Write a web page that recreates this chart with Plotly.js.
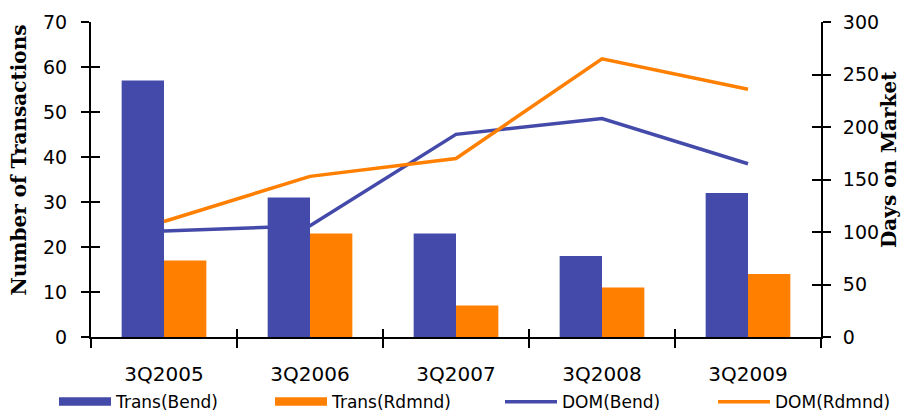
<!DOCTYPE html>
<html><head><meta charset="utf-8">
<script src="https://cdn.plot.ly/plotly-3.0.1.min.js"></script>
<style>html,body{margin:0;padding:0;background:#fff}#chart{width:904px;height:415px}</style>
</head><body><div id="chart"></div>
<script>
const categories = ["3Q2005","3Q2006","3Q2007","3Q2008","3Q2009"];
const transBend = [57, 31, 23, 18, 32];
const transRdmnd = [17, 23, 7, 11, 14];
const domBend = [101, 106, 193, 208, 165];
const domRdmnd = [110, 153, 170, 265, 236];
const leftTicks = [0,10,20,30,40,50,60,70];
const rightTicks = [0,50,100,150,200,250,300];
const leftTitle = "Number of Transactions";
const rightTitle = "Days on Market";

const blue = "#444AA9", orange = "#FF7F00";
const tickFont = {family: "DejaVu Sans", size: 19, color: "#000"};
const titleFont = {family: "DejaVu Serif", size: 20, color: "#000", weight: "bold"};

const traces = [
  {type:"bar", name:"Trans(Bend)", x:categories, y:transBend, marker:{color:blue}, yaxis:"y", showlegend:false},
  {type:"bar", name:"Trans(Rdmnd)", x:categories, y:transRdmnd, marker:{color:orange}, yaxis:"y", showlegend:false},
  // legend swatches for the bar series (wide rectangles as in the reference)
  {type:"scatter", mode:"lines", name:"Trans(Bend)", x:[categories[0]], y:[null], fill:"toself", fillcolor:blue, line:{color:blue, width:5}, yaxis:"y2", legend:"legend"},
  {type:"scatter", mode:"lines", name:"Trans(Rdmnd)", x:[categories[0]], y:[null], fill:"toself", fillcolor:orange, line:{color:orange, width:5}, yaxis:"y2", legend:"legend2"},
  {type:"scatter", mode:"lines", name:"DOM(Bend)", x:categories, y:domBend, line:{color:blue, width:3.5}, yaxis:"y2", legend:"legend3"},
  {type:"scatter", mode:"lines", name:"DOM(Rdmnd)", x:categories, y:domRdmnd, line:{color:orange, width:3.5}, yaxis:"y2", legend:"legend4"}
];

function leg(px) {
  return {orientation:"h", xref:"container", x:px/904, xanchor:"left", yref:"container", y:0.031, yanchor:"middle",
          bgcolor:"rgba(0,0,0,0)", font:{family:"DejaVu Sans", size:17, color:"#000"}, itemwidth:52};
}

const layout = {
  width:904, height:415,
  margin:{l:91, r:83, t:22, b:78, autoexpand:false},
  paper_bgcolor:"#fff", plot_bgcolor:"#fff",
  barmode:"group", bargap:0.42, bargroupgap:0,
  showlegend:true,
  legend:leg(54), legend2:leg(270), legend3:leg(500), legend4:leg(713),
  annotations:[
    {text:leftTitle, textangle:-90, xref:"paper", yref:"paper", x:-0.0993, y:0.562,
     xanchor:"center", yanchor:"middle", showarrow:false, font:titleFont},
    {text:rightTitle, textangle:-90, xref:"paper", yref:"paper", x:1.0932, y:0.562,
     xanchor:"center", yanchor:"middle", showarrow:false, font:titleFont}
  ],
  xaxis:{type:"category", showline:true, linecolor:"#000", linewidth:2,
         ticks:"outside", ticklen:9, tickwidth:2, tickcolor:"#000", tickson:"boundaries",
         ticklabelstandoff:18,
         tickfont:{family:"DejaVu Sans", size:20, color:"#000"}, showgrid:false, zeroline:false},
  xaxis2:{overlaying:"x", matches:"x", type:"category", showline:false, ticks:"inside", ticklen:8,
          tickwidth:2, tickcolor:"#000", tickson:"boundaries", showticklabels:false, showgrid:false},
  yaxis:{range:[0,70], tickvals:leftTicks, showline:true, linecolor:"#000", linewidth:2,
         ticks:"outside", ticklen:8, tickwidth:2, tickcolor:"#000", tickfont:tickFont,
         ticklabelstandoff:10, showgrid:false, zeroline:false},
  yaxis2:{range:[0,300], tickvals:rightTicks, overlaying:"y", side:"right", showline:true,
          linecolor:"#000", linewidth:2, ticks:"outside", ticklen:8, tickwidth:2, tickcolor:"#000",
          ticklabelstandoff:8, tickfont:tickFont, showgrid:false, zeroline:false},
  yaxis3:{range:[0,70], overlaying:"y", tickvals:leftTicks, ticks:"inside", ticklen:9, tickwidth:2,
          tickcolor:"#000", showticklabels:false, showgrid:false, zeroline:false, showline:false},
  yaxis4:{range:[0,300], overlaying:"y", side:"right", tickvals:rightTicks, ticks:"inside", ticklen:9,
          tickwidth:2, tickcolor:"#000", showticklabels:false, showgrid:false, zeroline:false, showline:false}
};

traces.push({type:"scatter", x:categories, y:transBend, xaxis:"x2", yaxis:"y3", mode:"none", showlegend:false, hoverinfo:"skip"});
traces.push({type:"scatter", x:categories, y:domBend, xaxis:"x2", yaxis:"y4", mode:"none", showlegend:false, hoverinfo:"skip"});

Plotly.newPlot("chart", traces, layout, {displayModeBar:false, staticPlot:true});
</script></body></html>
